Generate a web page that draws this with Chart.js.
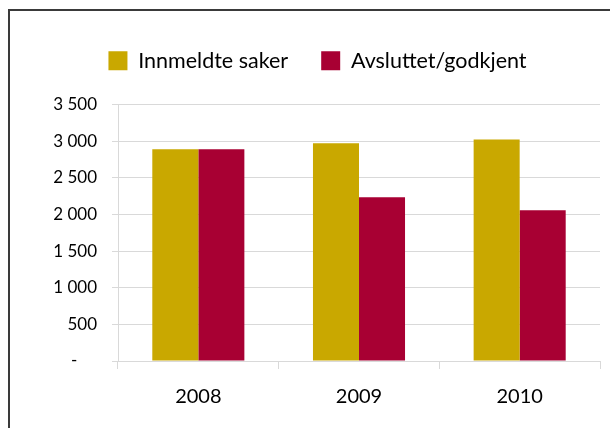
<!DOCTYPE html>
<html>
<head>
<meta charset="utf-8">
<script src="https://cdn.jsdelivr.net/npm/chart.js@4"></script>
<style>
  html, body { margin: 0; padding: 0; background: #fff; overflow: hidden; }
  #wrap { position: relative; width: 610px; height: 428px; }
  #frame { position: absolute; left: 8px; top: 9px; width: 640px; height: 460px;
           border: 2px solid #3a3a3a; box-sizing: border-box; }
  canvas { position: absolute; left: 0; top: 0; }
</style>
</head>
<body>
<div id="wrap">
  <div id="frame"></div>
  <canvas id="chart" width="610" height="428"></canvas>
</div>
<script>
// Data
const years = ['2008', '2009', '2010'];
const innmeldte = [2888, 2970, 3024];
const avsluttet = [2888, 2235, 2058];
const yTicks = [0, 500, 1000, 1500, 2000, 2500, 3000, 3500];

const FONT = 'Lato, "Open Sans", sans-serif';

// Format like Excel: space as thousands separator, dash for zero
function fmt(v) {
    if (v === 0) return '-\u2007\u2007';
    return String(v).replace(/\B(?=(\d{3})+(?!\d))/g, ' ');
}

// Extra room under the legend, so the plot starts lower
const legendSpacer = {
    id: 'legendSpacer',
    beforeLayout(chart) {
        const lg = chart.legend;
        if (!lg || lg._spaced) return;
        const fit = lg.fit;
        lg.fit = function () { fit.call(this); this.height += 23; };
        lg._spaced = true;
    }
};

const ctx = document.getElementById('chart').getContext('2d');
new Chart(ctx, {
    type: 'bar',
    data: {
        labels: years,
        datasets: [
            { label: 'Innmeldte saker', data: innmeldte, backgroundColor: '#c9a800' },
            { label: 'Avsluttet/godkjent', data: avsluttet, backgroundColor: '#a80033' }
        ]
    },
    options: {
        responsive: false,
        animation: false,
        layout: { padding: { left: 35, right: 10, top: 17, bottom: 3 } },
        datasets: { bar: { categoryPercentage: 0.573, barPercentage: 1 } },
        plugins: {
            legend: {
                position: 'top',
                labels: {
                    color: '#000',
                    boxWidth: 19, boxHeight: 19,
                    padding: 33,
                    font: { family: FONT, size: 21.5 }
                }
            },
            tooltip: { enabled: false }
        },
        scales: {
            x: {
                grid: { display: true, offset: true, drawOnChartArea: false, color: '#d9d9d9', tickLength: 8 },
                border: { color: '#d9d9d9' },
                ticks: { color: '#000', padding: 16, font: { family: FONT, size: 20 } }
            },
            y: {
                min: 0, max: 3500,
                afterFit(scale) { scale.width = 83; },
                afterBuildTicks(scale) { scale.ticks = yTicks.map(v => ({ value: v })); },
                grid: { color: '#d9d9d9', tickLength: 6 },
                border: { color: '#d9d9d9' },
                ticks: {
                    color: '#000', padding: 15,
                    font: { family: FONT, size: 17 },
                    callback: v => fmt(v)
                }
            }
        }
    },
    plugins: [legendSpacer]
});
</script>
</body>
</html>
